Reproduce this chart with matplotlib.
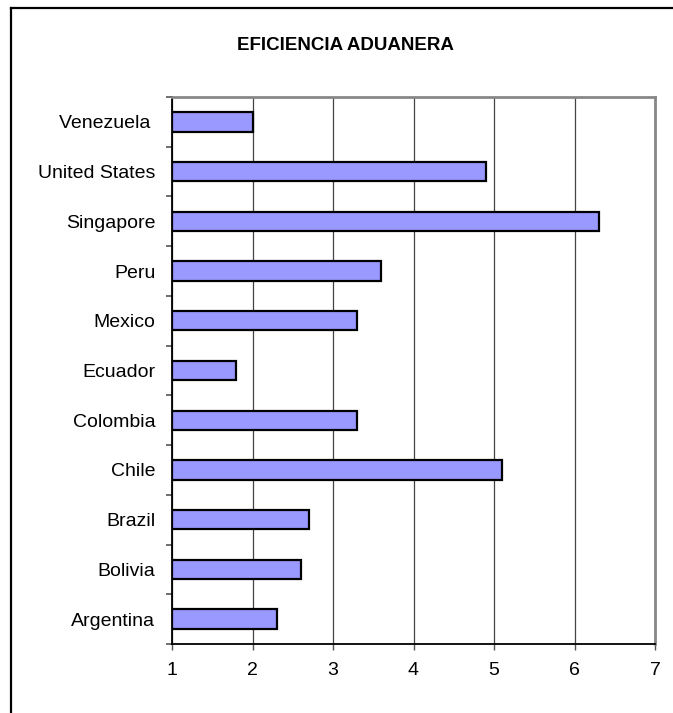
import matplotlib
matplotlib.use("Agg")
import matplotlib.pyplot as plt
from matplotlib.lines import Line2D
import numpy as np

plt.rcParams['font.family'] = ['Liberation Sans', 'DejaVu Sans']

title = "EFICIENCIA ADUANERA"
countries = ["Argentina", "Bolivia", "Brazil", "Chile", "Colombia", "Ecuador",
             "Mexico", "Peru", "Singapore", "United States", "Venezuela "]
values = [2.3, 2.6, 2.7, 5.1, 3.3, 1.8, 3.3, 3.6, 6.3, 4.9, 2.0]
x_ticks = [1, 2, 3, 4, 5, 6, 7]

W, H = 673, 713
fig = plt.figure(figsize=(W / 100, H / 100), dpi=100)
fig.patch.set_facecolor("white")

ax = fig.add_axes([172 / W, 1 - 644 / H, (655 - 172) / W, (644 - 97) / H])

y = np.arange(len(countries))
base = x_ticks[0]
ax.barh(y, np.array(values) - base, left=base, height=0.39,
        color="#9999FF", edgecolor="black", linewidth=1.6, zorder=3)

ax.set_xlim(x_ticks[0], x_ticks[-1])
ax.set_ylim(-0.5, len(countries) - 0.5)
ax.set_xticks(x_ticks)
ax.set_xticklabels([str(t) for t in x_ticks])
ax.set_yticks(y)
ax.set_yticklabels(countries)
ax.set_yticks(np.arange(-0.5, len(countries), 1.0), minor=True)

ax.tick_params(axis="y", which="major", length=0, pad=12, labelsize=14)
ax.tick_params(axis="y", which="minor", length=4, width=1.2, color="#555555")
ax.tick_params(axis="x", which="major", length=4, width=1.0, color="#555555",
               pad=9, labelsize=14)

ax.xaxis.grid(True, color="#444444", linewidth=0.9, zorder=0)
ax.set_axisbelow(True)

for side in ("left", "bottom"):
    ax.spines[side].set_color("black")
    ax.spines[side].set_linewidth(1.3)
for side in ("top", "right"):
    ax.spines[side].set_color("#888888")
    ax.spines[side].set_linewidth(2.0)

fig.text(345 / W, 1 - 45 / H, title, ha="center", va="center",
         fontsize=13.5, fontweight="bold")

# Outer chart frame (left and top edges visible)
fig.add_artist(Line2D([11.5 / W, 11.5 / W], [0, 1 - 8 / H],
                      transform=fig.transFigure, color="black", linewidth=1.6))
fig.add_artist(Line2D([11.5 / W, 1], [1 - 8 / H, 1 - 8 / H],
                      transform=fig.transFigure, color="black", linewidth=1.6))

fig.savefig("out.png", dpi=100)
